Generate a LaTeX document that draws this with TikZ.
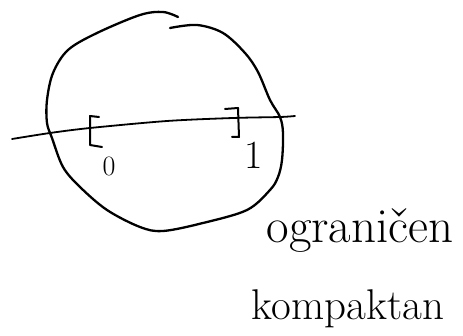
\documentclass[tikz,border=0pt]{standalone}
\usepackage{fontspec}
\begin{document}
\begin{tikzpicture}[x=1pt,y=-1pt,
  stroke/.style={line width=2.3pt,line cap=round,line join=round},
  word/.style={anchor=base,inner sep=0pt}]
\useasboundingbox (0,0) rectangle (463,336);
% closed set (sketched circle)
\draw[stroke] plot[smooth,tension=0.55] coordinates{
 (178,17) (163,12) (140,15) (97,33) (68,50) (53,73) (47,100) (47,123)
 (52,138) (63,167) (80,187) (107,210) (140,227) (163,231)
 (203,223) (247,210) (270,190) (278,177) (282,160) (283,133) (280,117)
 (270,100) (258,72) (245,53) (223,33) (197,25) (170,28)};
% real line
\draw[stroke,line width=1.8pt] plot[smooth,tension=0.5] coordinates{
 (12,139) (50,133) (90,128) (167,121) (233,118) (280,117) (295,116)};
% brackets
\draw[stroke,line width=2pt] (99,117) -- (90,116) -- (90,145) -- (102,147);
\draw[stroke,line width=2pt] (225,109) -- (238,108) -- (239,137) -- (232,137);
% labels
\node[word,font=\fontsize{28}{32}\selectfont] (zero) at (109,176) {0};
\node[word,font=\fontsize{40}{46}\selectfont] (one) at (254,169) {1};
\node[word,font=\fontsize{49}{56}\selectfont] (ogr) at (360,243) {ograničen};
\node[word,font=\fontsize{43}{50}\selectfont] (komp) at (348,320) {kompaktan};
\end{tikzpicture}
\end{document}
